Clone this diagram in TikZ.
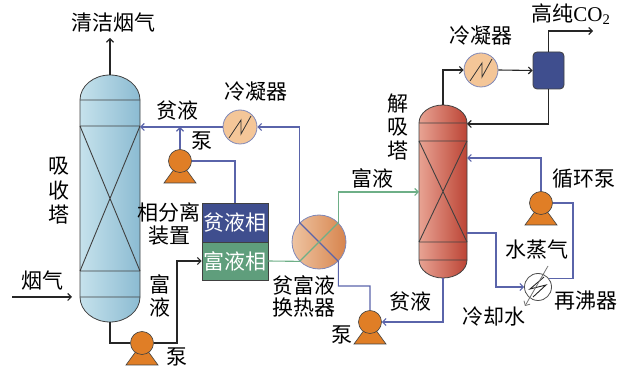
\documentclass[tikz,border=0pt]{standalone}
\usepackage{fontspec}
\setmainfont{Noto Sans CJK SC}
\newfontfamily\latinserif{Liberation Serif}
\usetikzlibrary{arrows.meta,calc}

\definecolor{pipeblue}{HTML}{5A64AA}
\definecolor{pipegreen}{HTML}{6EAF87}
\definecolor{absL}{HTML}{C6E2EC}
\definecolor{absR}{HTML}{8BBBD2}
\definecolor{desL}{HTML}{E8A393}
\definecolor{desR}{HTML}{BC4435}
\definecolor{hxL}{HTML}{EEC4A2}
\definecolor{hxR}{HTML}{D7844D}
\definecolor{condfill}{HTML}{F4C698}
\definecolor{condedge}{HTML}{7F88B8}
\definecolor{navy}{HTML}{3F4E8E}
\definecolor{boxgreen}{HTML}{5F9E7C}
\definecolor{pumporange}{HTML}{E07E26}
\definecolor{outline}{HTML}{404040}

% pump symbol: base triangle behind a round casing
\newcommand\drawpump[2]{%
  \filldraw[fill=pumporange,draw=outline,line width=0.6pt]
    ($#2+(-16,22)$) -- ($#2+(16,22)$) -- #2 -- cycle;
  \node[circle,fill=pumporange,draw=outline,line width=0.6pt,
        minimum size=23pt,inner sep=0pt] (#1) at #2 {};
}

\begin{document}
\begin{tikzpicture}[x=1pt,y=-1pt,
  lbl/.style={font=\fontsize{21}{24}\selectfont,inner sep=0pt,align=center},
  pipeK/.style={draw=black!85,line width=1.1pt},
  pipeB/.style={draw=pipeblue,line width=1.1pt},
  pipeG/.style={draw=pipegreen,line width=1.1pt},
  tip/.style={-{Straight Barb[length=3.5pt,width=7pt]}},
  inner/.style={draw=outline,line width=0.9pt},
  condenser/.style={circle,fill=condfill,draw=condedge,line width=0.8pt,
                    minimum size=34pt,inner sep=0pt},
]
\useasboundingbox (0,0) rectangle (625,374);

% ---------- absorber column ----------
\shadedraw[left color=absL,right color=absR,draw=outline,line width=0.8pt]
  (80,100) arc[start angle=180,end angle=360,x radius=30,y radius=25]
  -- (140,297) arc[start angle=0,end angle=180,x radius=30,y radius=25] -- cycle;
\draw[inner] (80,100) -- (140,100) (80,126) -- (140,126)
             (80,271) -- (140,271) (80,297) -- (140,297)
             (80,126) -- (140,271) (140,126) -- (80,271);
\coordinate (absTop) at (110,75);
\coordinate (absBot) at (110,322);
\coordinate (absIn)  at (140,127);
\coordinate (gasOut) at (110,38);
\coordinate (gasA)   at (12,297);
\coordinate (gasB)   at (72,297);

% ---------- stripper column ----------
\shadedraw[left color=desL,right color=desR,draw=outline,line width=0.8pt]
  (419,123) arc[start angle=180,end angle=360,x radius=24,y radius=18]
  -- (467,260) arc[start angle=0,end angle=180,x radius=24,y radius=18] -- cycle;
\draw[inner] (419,123) -- (467,123) (419,141) -- (467,141)
             (419,242) -- (467,242) (419,260) -- (467,260)
             (419,141) -- (467,242) (467,141) -- (419,242);
\coordinate (desTop) at (443,105);
\coordinate (desBot) at (443,278);
\coordinate (desRet) at (467,124);
\coordinate (desRec) at (467,158);
\coordinate (desFeed) at (419,192);
\coordinate (desOut) at (467,233);
\coordinate (co2) at (593,31);

% ---------- equipment ----------
\node[condenser] (c1) at (240,127) {};
\draw[line width=0.8pt,black!80] ($(c1)+(-11,11)$) -- ($(c1)+(1,-7)$)
  -- ($(c1)+(1,7)$) -- ($(c1)+(11,-11)$);
\node[condenser] (c2) at (481,70) {};
\draw[line width=0.8pt,black!80] ($(c2)+(-11,11)$) -- ($(c2)+(1,-7)$)
  -- ($(c2)+(1,7)$) -- ($(c2)+(11,-11)$);

\node[rectangle,fill=navy,draw=outline,line width=0.8pt,minimum width=66pt,
      minimum height=39pt,inner sep=0pt,lbl,text=white] (lean) at (235,222.5) {贫液相};
\node[rectangle,fill=boxgreen,draw=outline,line width=0.8pt,minimum width=66pt,
      minimum height=38pt,inner sep=0pt,lbl,text=white] (rich) at (235,261) {富液相};

\node[circle,left color=hxL,right color=hxR,draw=condedge,line width=0.8pt,
      minimum size=54pt,inner sep=0pt] (hx) at (319,242) {};

\node[rectangle,rounded corners=4pt,fill=navy,draw=outline,line width=0.8pt,
      minimum width=31pt,minimum height=37pt,inner sep=0pt] (sep) at (548.5,70.5) {};

\node[circle,fill=white,draw=black!70,line width=0.8pt,minimum size=27pt,
      inner sep=0pt] (reb) at (538,287) {};
\draw[line width=0.9pt,black!85] ($(reb)+(6,-10)$) -- ($(reb)+(-8,2)$)
  -- ($(reb)+(8,-2)$) -- ($(reb)+(-5,10)$);
\coordinate (steamIn) at (548,266);
\coordinate (waterOut) at (525,306);
\draw[black!55,line width=0.8pt,tip] (steamIn) -- (waterOut);

\drawpump{p1}{(180,161)}
\drawpump{p2}{(142,343)}
\drawpump{p3}{(370,322)}
\drawpump{p4}{(541,203)}

% ---------- black process lines ----------
\draw[pipeK,tip] (absTop) -- (gasOut);
\draw[pipeK,tip] (gasA) -- (gasB);
\draw[pipeK] (absBot) |- (p2.west);
\draw[pipeK,tip] (p2.east) -- (177,343) |- (rich.west);
\draw[pipeK,tip] (desTop) |- (c2.west);
\draw[pipeK,tip] (c2.east) -- (sep.west);
\draw[pipeK,tip] (sep.north) |- (co2);
\draw[pipeK,tip] (sep.south) |- (desRet);

% ---------- lean solution (blue) ----------
\draw[pipeB,tip] (c1.west) -- (absIn);
\draw[pipeB,tip] (p1.north) -- (p1.north |- absIn);
\draw[pipeB] (lean.north) |- (p1.east);
\draw[pipeB,tip] (desBot) |- (p3.east);
\draw[pipeB] (p3.north) -- (370,286) -| (hx.-45) -- (hx.135);
\draw[pipeB,tip] (hx.135) |- (c1.east);
\draw[pipeB,tip] (desOut) -- (496,233) |- (reb.west);
\draw[pipeB] (reb.40) -| (573,203) -- (p4.east);
\draw[pipeB,tip] (p4.north) |- (desRec);

% ---------- rich solution (green) ----------
\draw[pipeG] (rich.east) -- (hx.-135) -- (hx.45);
\draw[pipeG,tip] (hx.45) |- (desFeed);

% ---------- labels ----------
\node[lbl] (tClean) at (113,23) {清洁烟气};
\node[lbl] (tGas) at (42,281) {烟气};
\node[lbl,font=\fontsize{21}{24.5}\selectfont] (tAbs) at (59,191) {吸\\收\\塔};
\node[lbl] (tLean1) at (177,111) {贫液};
\node[lbl] (tPump1) at (202,141) {泵};
\node[lbl] (tCond1) at (256,92) {冷凝器};
\node[lbl] (tSepA) at (169,212) {相分离};
\node[lbl] (tSepB) at (169,236) {装置};
\node[lbl,font=\fontsize{21}{23}\selectfont] (tRich1) at (160,296) {富\\液};
\node[lbl] (tPump2) at (177,357) {泵};
\node[lbl] (tHxA) at (304,285) {贫富液};
\node[lbl] (tHxB) at (304,308) {换热器};
\node[lbl] (tRich2) at (372,178) {富液};
\node[lbl] (tPump3) at (342,335) {泵};
\node[lbl] (tLean2) at (410,302) {贫液};
\node[lbl,font=\fontsize{21}{23.5}\selectfont] (tDes) at (398,127) {解\\吸\\塔};
\node[lbl] (tCond2) at (481,36) {冷凝器};
\node[lbl] (tCO2) at (571,14) {高纯{\latinserif CO\textsubscript{2}}};
\node[lbl] (tCirc) at (584,179) {循环泵};
\node[lbl] (tSteam) at (537,250) {水蒸气};
\node[lbl] (tReb) at (586,301) {再沸器};
\node[lbl] (tWater) at (494,317) {冷却水};
\end{tikzpicture}
\end{document}
